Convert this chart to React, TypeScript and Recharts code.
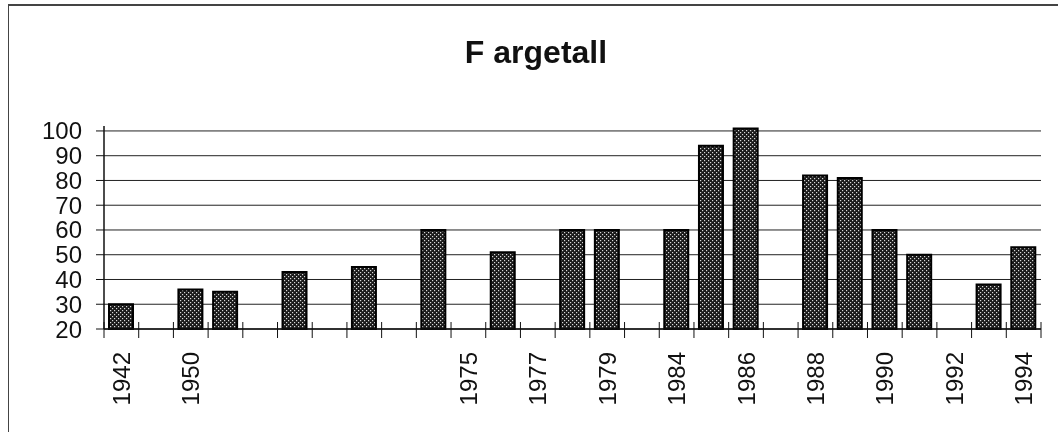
import React from "react";
import { BarChart, Bar, XAxis, YAxis, CartesianGrid } from "recharts";

const categories = ["0","1","2","3","4","5","6","7","8","9","10","11","12","13","14","15","16","17","18","19","20","21","22","23","24","25","26"];
const tickLabels = ["1942","","1950","","","","","","","","1975","","1977","","1979","","1984","","1986","","1988","","1990","","1992","","1994"];
const values: (number | null)[] = [30,null,36,35,null,43,null,45,null,60,null,51,null,60,60,null,60,94,101,null,82,81,60,50,null,38,53];
const yTicks = [20,30,40,50,60,70,80,90,100];

const data = categories.map((c, i) => ({ name: c, value: values[i] }));

const FONT = "'Liberation Sans', Arial, sans-serif";

const XTick = (props: any) => {
  const { x, y, payload, index } = props;
  const off = payload && typeof payload.offset === "number" ? payload.offset : 17.35;
  const label = tickLabels[Number(payload.value)] || "";
  return (
    <g>
      {index === 0 && (
        <line x1={x - off} x2={x - off} y1={y - 7} y2={y + 9} stroke="#111" strokeWidth={1} />
      )}
      <line x1={x + off} x2={x + off} y1={y - 7} y2={y + 9} stroke="#111" strokeWidth={1} />
      {label && (
        <text
          x={0}
          y={0}
          transform={`translate(${x},${y + 23}) rotate(-90)`}
          textAnchor="end"
          dy="0.36em"
          fontFamily={FONT}
          fontSize={24}
          fill="#111"
        >
          {label}
        </text>
      )}
    </g>
  );
};

export default function App() {
  return (
    <div style={{ position: "relative", width: 1044, height: 425 }}>
      <div
        style={{
          position: "fixed",
          left: 8,
          top: 4,
          width: 1050,
          height: 2,
          background: "#444",
        }}
      />
      <div
        style={{
          position: "fixed",
          left: 8,
          top: 4,
          width: 1,
          height: 428,
          background: "#444",
        }}
      />
      <div
        style={{
          position: "absolute",
          left: 0,
          top: 24,
          width: 1056,
          lineHeight: "40px",
          textAlign: "center",
          fontFamily: FONT,
          fontWeight: "bold",
          fontSize: 32,
          color: "#111",
        }}
      >
        F argetall
      </div>
      <div style={{ position: "absolute", left: 0, top: 0 }}>
        <BarChart
          width={1044}
          height={425}
          data={data}
          margin={{ top: 118, right: 11, bottom: 0, left: 0 }}
          barSize={24}
        >
          <defs>
            <pattern id="dots" width="4" height="4" patternUnits="userSpaceOnUse">
              <rect width="4" height="4" fill="#1a1a1a" />
              <rect x="0" y="0" width="1.2" height="1.2" fill="#d8d8d8" />
              <rect x="2" y="2" width="1.2" height="1.2" fill="#d8d8d8" />
            </pattern>
          </defs>
          <CartesianGrid vertical={false} horizontalValues={yTicks} stroke="#222" strokeWidth={1} />
          <XAxis
            dataKey="name"
            height={104}
            interval={0}
            tickLine={false}
            tickSize={0}
            tickMargin={0}
            axisLine={{ stroke: "#111", strokeWidth: 1.5 }}
            tick={<XTick />}
          />
          <YAxis
            width={96}
            domain={[20, 102]}
            ticks={yTicks}
            interval={0}
            tickSize={8}
            tickMargin={14}
            axisLine={{ stroke: "#111", strokeWidth: 1.5 }}
            tickLine={{ stroke: "#111" }}
            tick={{ fill: "#111", fontFamily: FONT, fontSize: 24 }}
          />
          <Bar
            dataKey="value"
            fill="url(#dots)"
            stroke="#000"
            strokeWidth={2}
            isAnimationActive={false}
          />
        </BarChart>
      </div>
    </div>
  );
}
